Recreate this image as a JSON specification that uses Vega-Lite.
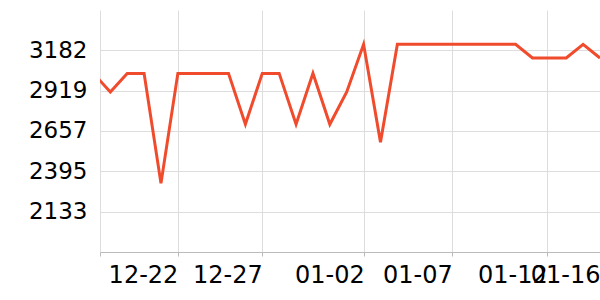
{
  "$schema": "https://vega.github.io/schema/vega-lite/v6.json",
  "width": 500,
  "height": 242,
  "autosize": {"type": "none"},
  "padding": {"left": 100, "top": 10, "right": 0, "bottom": 48},
  "background": "white",
  "config": {"view": {"stroke": null}, "font": "DejaVu Sans"},
  "data": {
    "values": [
      {"date": "2023-12-17T00:00:00Z", "value": 3031},
      {"date": "2023-12-18T00:00:00Z", "value": 2910},
      {"date": "2023-12-19T00:00:00Z", "value": 3031},
      {"date": "2023-12-20T00:00:00Z", "value": 3031},
      {"date": "2023-12-21T00:00:00Z", "value": 2316},
      {"date": "2023-12-22T00:00:00Z", "value": 3031},
      {"date": "2023-12-23T00:00:00Z", "value": 3031},
      {"date": "2023-12-24T00:00:00Z", "value": 3031},
      {"date": "2023-12-25T00:00:00Z", "value": 3031},
      {"date": "2023-12-26T00:00:00Z", "value": 2700},
      {"date": "2023-12-27T00:00:00Z", "value": 3031},
      {"date": "2023-12-28T00:00:00Z", "value": 3031},
      {"date": "2023-12-29T00:00:00Z", "value": 2700},
      {"date": "2023-12-30T00:00:00Z", "value": 3031},
      {"date": "2023-12-31T00:00:00Z", "value": 2700},
      {"date": "2024-01-01T00:00:00Z", "value": 2910},
      {"date": "2024-01-02T00:00:00Z", "value": 3220},
      {"date": "2024-01-03T00:00:00Z", "value": 2583},
      {"date": "2024-01-04T00:00:00Z", "value": 3220},
      {"date": "2024-01-05T00:00:00Z", "value": 3220},
      {"date": "2024-01-06T00:00:00Z", "value": 3220},
      {"date": "2024-01-07T00:00:00Z", "value": 3220},
      {"date": "2024-01-08T00:00:00Z", "value": 3220},
      {"date": "2024-01-09T00:00:00Z", "value": 3220},
      {"date": "2024-01-10T00:00:00Z", "value": 3220},
      {"date": "2024-01-11T00:00:00Z", "value": 3220},
      {"date": "2024-01-12T00:00:00Z", "value": 3131},
      {"date": "2024-01-13T00:00:00Z", "value": 3131},
      {"date": "2024-01-14T00:00:00Z", "value": 3131},
      {"date": "2024-01-15T00:00:00Z", "value": 3220},
      {"date": "2024-01-16T00:00:00Z", "value": 3131}
    ]
  },
  "mark": {"type": "line", "color": "#f04b2c", "strokeWidth": 3, "clip": true},
  "encoding": {
    "x": {
      "field": "date",
      "type": "temporal",
      "title": null,
      "scale": {
        "type": "utc",
        "domain": [
          {"year": 2023, "month": 12, "date": 17, "hours": 9, "minutes": 20, "utc": true},
          {"year": 2024, "month": 1, "date": 16, "hours": 0, "utc": true}
        ]
      },
      "axis": {
        "values": [
          {"year": 2023, "month": 12, "date": 17, "hours": 9, "minutes": 20, "utc": true},
          {"year": 2023, "month": 12, "date": 22, "hours": 0, "utc": true},
          {"year": 2023, "month": 12, "date": 27, "hours": 0, "utc": true},
          {"year": 2024, "month": 1, "date": 2, "hours": 1, "utc": true},
          {"year": 2024, "month": 1, "date": 7, "hours": 6, "utc": true},
          {"year": 2024, "month": 1, "date": 12, "hours": 21, "utc": true},
          {"year": 2024, "month": 1, "date": 16, "hours": 0, "utc": true}
        ],
        "labelExpr": "datum.index == 0 ? '' : utcFormat(datum.value, '%m-%d')",
        "labelAlign": "right",
        "labelBaseline": "top",
        "labelFontSize": 24,
        "labelColor": "#000000",
        "labelPadding": 7,
        "labelOverlap": false,
        "labelFlush": false,
        "labelBound": false,
        "tickSize": 4,
        "tickColor": "#bbbbbb",
        "domainColor": "#bbbbbb",
        "gridColor": "#dddddd",
        "grid": true
      }
    },
    "y": {
      "field": "value",
      "type": "quantitative",
      "title": null,
      "scale": {"domain": [1870, 3443], "nice": false, "zero": false},
      "axis": {
        "values": [2133, 2395, 2657, 2919, 3182],
        "format": "d",
        "ticks": false,
        "domain": false,
        "labelFontSize": 23,
        "labelColor": "#000000",
        "labelPadding": 13,
        "gridColor": "#dddddd"
      }
    }
  }
}
